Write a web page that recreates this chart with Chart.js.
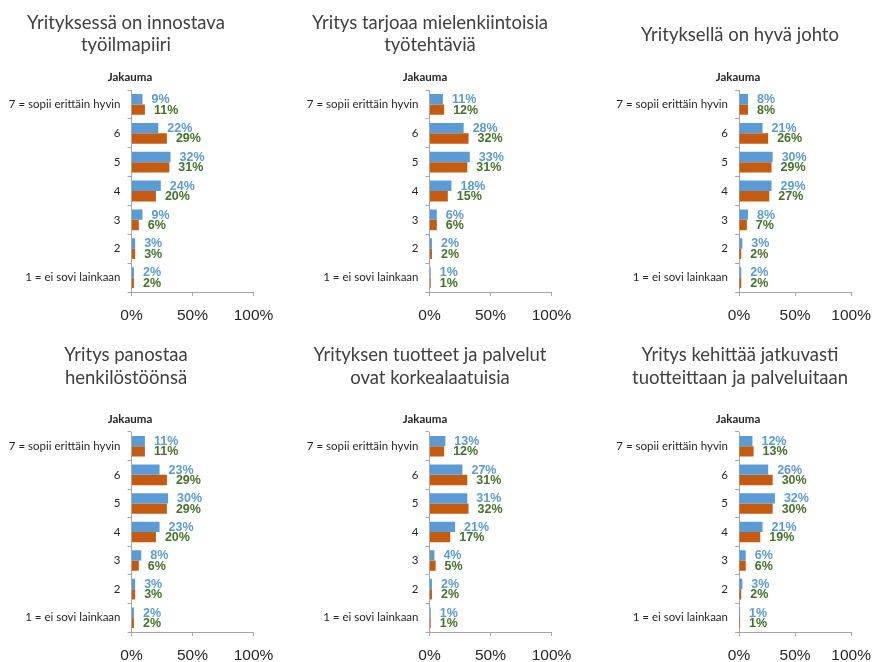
<!DOCTYPE html>
<html>
<head>
<meta charset="utf-8">
<script src="https://cdn.jsdelivr.net/npm/chart.js@4/dist/chart.umd.min.js"></script>
<style>
  html, body { margin: 0; padding: 0; background: #ffffff; }
  body { width: 881px; height: 662px; position: relative; overflow: hidden; }
  canvas { position: absolute; }
</style>
</head>
<body>
<script>
// ---------- DATA ----------
const categories = ['7 = sopii erittäin hyvin', '6', '5', '4', '3', '2', '1 = ei sovi lainkaan'];
const xTickValues = [0, 50, 100];

const title1 = ['Yrityksessä on innostava', 'työilmapiiri'];
const blue1 = [9, 22, 32, 24, 9, 3, 2];
const orange1 = [11, 29, 31, 20, 6, 3, 2];

const title2 = ['Yritys tarjoaa mielenkiintoisia', 'työtehtäviä'];
const blue2 = [11, 28, 33, 18, 6, 2, 1];
const orange2 = [12, 32, 31, 15, 6, 2, 1];

const title3 = ['Yrityksellä on hyvä johto'];
const blue3 = [8, 21, 30, 29, 8, 3, 2];
const orange3 = [8, 26, 29, 27, 7, 2, 2];

const title4 = ['Yritys panostaa', 'henkilöstöönsä'];
const blue4 = [11, 23, 30, 23, 8, 3, 2];
const orange4 = [11, 29, 29, 20, 6, 3, 2];

const title5 = ['Yrityksen tuotteet ja palvelut', 'ovat korkealaatuisia'];
const blue5 = [13, 27, 31, 21, 4, 2, 1];
const orange5 = [12, 31, 32, 17, 5, 2, 1];

const title6 = ['Yritys kehittää jatkuvasti', 'tuotteittaan ja palveluitaan'];
const blue6 = [12, 26, 32, 21, 6, 3, 1];
const orange6 = [13, 30, 30, 19, 6, 2, 1];

const subLabel = 'Jakauma';

// ---------- LAYOUT ----------
const cols = [
  { left: 0,   width: 294, axisX: 131.5, titleX: 126, subX: 130 },
  { left: 294, width: 296, axisX: 429.5, titleX: 430, subX: 425 },
  { left: 590, width: 291, axisX: 739,   titleX: 740, subX: 738 }
];
const rows = [
  { top: 0,   height: 330, plotTop: 90,  plotBottom: 292, titleY: [23, 45.5], singleY: 35, subY: 77 },
  { top: 330, height: 332, plotTop: 432, plotBottom: 632, titleY: [355, 378], singleY: 366, subY: 419 }
];
const plotWidth = 122;

const panels = [
  { t: title1, b: blue1, o: orange1, c: 0, r: 0 },
  { t: title2, b: blue2, o: orange2, c: 1, r: 0 },
  { t: title3, b: blue3, o: orange3, c: 2, r: 0 },
  { t: title4, b: blue4, o: orange4, c: 0, r: 1 },
  { t: title5, b: blue5, o: orange5, c: 1, r: 1 },
  { t: title6, b: blue6, o: orange6, c: 2, r: 1 }
];

const BLUE = '#5b9bd5';
const ORANGE = '#c55a11';
const GREEN = '#44722a';
const AXIS = '#a6a6a6';
const CAL = 'Lato, "Open Sans", sans-serif';
const ARIAL = '"Liberation Sans", Arial, sans-serif';

Chart.defaults.font.family = CAL;
Chart.defaults.animation = false;

const valueLabels = {
  id: 'valueLabels',
  afterDatasetsDraw(chart) {
    const ctx = chart.ctx;
    ctx.save();
    ctx.font = 'bold 12.5px ' + ARIAL;
    ctx.textAlign = 'left';
    ctx.textBaseline = 'middle';
    chart.data.datasets.forEach((ds, i) => {
      ctx.fillStyle = i === 0 ? BLUE : GREEN;
      chart.getDatasetMeta(i).data.forEach((bar, j) => {
        ctx.fillText(ds.data[j] + '%', bar.x + 9, bar.y + 0.5);
      });
    });
    ctx.restore();
  }
};

const panelText = {
  id: 'panelText',
  afterDraw(chart, args, opts) {
    const ctx = chart.ctx;
    ctx.save();
    ctx.textAlign = 'center';
    ctx.textBaseline = 'middle';
    ctx.fillStyle = '#404040';
    ctx.font = '18.5px ' + CAL;
    const lines = opts.lines;
    lines.forEach((ln, k) => {
      const y = lines.length === 1 ? opts.singleY : opts.titleY[k];
      ctx.fillText(ln, opts.titleX, y);
    });
    ctx.fillStyle = '#262626';
    ctx.font = 'bold 11.5px ' + CAL;
    ctx.fillText(subLabel, opts.subX, opts.subY);
    ctx.restore();
  }
};

panels.forEach((p) => {
  const col = cols[p.c];
  const row = rows[p.r];
  const cv = document.createElement('canvas');
  cv.style.left = col.left + 'px';
  cv.style.top = row.top + 'px';
  cv.style.width = col.width + 'px';
  cv.style.height = row.height + 'px';
  cv.width = col.width;
  cv.height = row.height;
  document.body.appendChild(cv);

  const yAxisWidth = col.axisX - col.left;
  const xAxisHeight = row.height - (row.plotBottom - row.top);
  const padRight = col.width - (col.axisX - col.left + plotWidth);

  new Chart(cv, {
    type: 'bar',
    data: {
      labels: categories,
      datasets: [
        { data: p.b, backgroundColor: BLUE, borderWidth: 0, barPercentage: 1, categoryPercentage: 0.72 },
        { data: p.o, backgroundColor: ORANGE, borderWidth: 0, barPercentage: 1, categoryPercentage: 0.72 }
      ]
    },
    options: {
      indexAxis: 'y',
      responsive: false,
      maintainAspectRatio: false,
      devicePixelRatio: 1,
      layout: { padding: { top: row.plotTop - row.top, right: padRight, bottom: 0, left: 0 } },
      plugins: {
        legend: { display: false },
        tooltip: { enabled: false },
        title: { display: false },
        panelText: {
          lines: p.t,
          titleX: col.titleX - col.left,
          titleY: row.titleY.map(v => v - row.top),
          singleY: row.singleY - row.top,
          subX: col.subX - col.left,
          subY: row.subY - row.top
        }
      },
      scales: {
        x: {
          min: 0, max: 100,
          afterBuildTicks(scale) { scale.ticks = xTickValues.map(v => ({ value: v })); },
          afterFit(scale) { scale.height = xAxisHeight; },
          grid: { drawOnChartArea: false, drawTicks: true, tickLength: 4, color: AXIS },
          border: { display: true, color: AXIS },
          ticks: {
            callback: (v) => v + '%',
            font: { family: ARIAL, size: 15.5 },
            color: '#262626',
            padding: 10,
            maxRotation: 0
          }
        },
        y: {
          afterFit(scale) { scale.width = yAxisWidth; },
          grid: { drawOnChartArea: false, drawTicks: true, tickLength: 4, color: AXIS, offset: true },
          border: { display: true, color: AXIS },
          ticks: {
            font: { family: CAL, size: 11.5 },
            color: '#262626',
            padding: 7,
            autoSkip: false
          }
        }
      }
    },
    plugins: [valueLabels, panelText]
  });
});
</script>
</body>
</html>
